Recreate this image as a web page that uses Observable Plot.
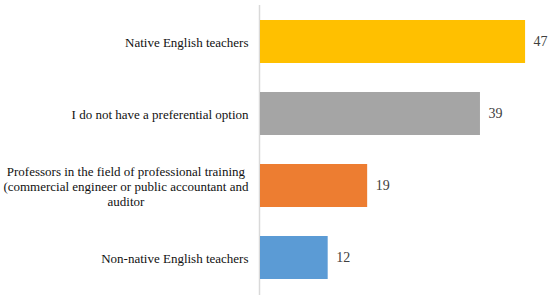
<!DOCTYPE html>
<html>
<head>
<meta charset="utf-8">
<script src="https://cdn.jsdelivr.net/npm/d3@7"></script>
<script src="https://cdn.jsdelivr.net/npm/@observablehq/plot@0.6"></script>
<style>
  html, body { margin: 0; padding: 0; background: #fff; }
  #chart svg { display: block; }
</style>
</head>
<body>
<div id="chart"></div>
<script>
const categories = [
  "Native English teachers",
  "I do not have a preferential option",
  "Professors in the field of professional training\n(commercial engineer or public accountant and\nauditor",
  "Non-native English teachers"
];
const values = [47, 39, 19, 12];
const colors = ["#FFC000", "#A5A5A5", "#ED7D31", "#5B9BD5"];

const data = categories.map((c, i) => ({category: c, value: values[i], color: colors[i]}));

const chart = Plot.plot({
  width: 550,
  height: 298,
  marginLeft: 260,
  marginRight: 8,
  marginTop: 5,
  marginBottom: 3,
  style: {fontFamily: "'Liberation Serif', serif", fontSize: "13px", color: "#000", background: "#fff"},
  x: {domain: [0, 50], axis: null},
  y: {domain: categories, paddingInner: 0.4, paddingOuter: 0.2, label: null},
  marks: [
    Plot.ruleX([0], {stroke: "#d9d9d9", strokeWidth: 1.5, dx: -1}),
    Plot.barX(data, {x: "value", y: "category", fill: "color"}),
    Plot.text(data, {x: "value", y: "category", text: d => String(d.value), dx: 8, textAnchor: "start", fill: "#404040", fontSize: 14}),
    Plot.axisY({tickSize: 0, tickPadding: 12, fontSize: 13, lineHeight: 1.15, fill: "#111", label: null})
  ]
});
document.getElementById("chart").appendChild(chart);

// Center the lines of wrapped tick labels relative to each other, keeping the block right-aligned
chart.querySelectorAll("g[aria-label='y-axis tick label'] text").forEach(t => {
  const spans = Array.from(t.querySelectorAll("tspan"));
  if (spans.length > 1) {
    const lens = spans.map(s => s.getComputedTextLength());
    const w = Math.max(...lens);
    t.setAttribute("text-anchor", "start");
    spans.forEach((s, i) => s.setAttribute("x", -w + (w - lens[i]) / 2));
  }
});
</script>
</body>
</html>
